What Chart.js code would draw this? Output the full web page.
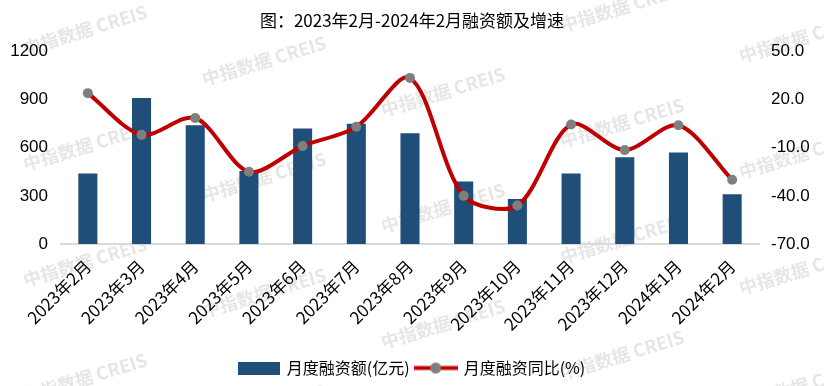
<!DOCTYPE html>
<html>
<head>
<meta charset="utf-8">
<script src="https://cdn.jsdelivr.net/npm/chart.js@4/dist/chart.umd.min.js"></script>
<style>
html,body{margin:0;padding:0;background:#fff;}
#wrap{width:824px;height:386px;position:relative;}
</style>
</head>
<body>
<div id="wrap"><canvas id="c" width="824" height="386"></canvas></div>
<script>
const categories = ["2023年2月","2023年3月","2023年4月","2023年5月","2023年6月","2023年7月","2023年8月","2023年9月","2023年10月","2023年11月","2023年12月","2024年1月","2024年2月"];
const amount = [440, 910, 740, 455, 720, 750, 690, 390, 280, 440, 540, 570, 310];
const growth = [24, -2, 8.5, -25, -9, 3, 33.5, -40, -46, 4.5, -11.5, 4, -30];
const leftTicks = [0, 300, 600, 900, 1200];
const rightTicks = [-70, -40, -10, 20, 50];
const titleText = "图：2023年2月-2024年2月融资额及增速";
const barLabel = "月度融资额(亿元)";
const lineLabel = "月度融资同比(%)";

const NAVY = "#1F4E79", RED = "#C00000", GREY = "#7F7F7F";
const CJK = '"Noto Sans CJK SC", "Noto Sans", sans-serif';
const LAT = '"Liberation Sans", Arial, sans-serif';

function mkCanvas(w, h, fn){ const c=document.createElement('canvas'); c.width=w; c.height=h; fn(c.getContext('2d')); return c; }
const barIcon = mkCanvas(42, 13, g => { g.fillStyle = NAVY; g.fillRect(0,0,42,13); });
const lineIcon = mkCanvas(44, 13, g => { g.strokeStyle = RED; g.lineWidth = 4; g.beginPath(); g.moveTo(0,6.5); g.lineTo(44,6.5); g.stroke(); g.fillStyle = GREY; g.beginPath(); g.arc(22,6.5,5.5,0,Math.PI*2); g.fill(); });

const watermark = {
  id: 'wm',
  beforeDraw(chart){
    const g = chart.ctx;
    g.save();
    g.fillStyle = '#e6e6e6';
    g.font = 'bold 18px ' + CJK;
    g.textAlign = 'center'; g.textBaseline = 'middle';
    for (let i = 0; i < 5; i++) {
      for (let j = -1; j < 4; j++) {
        const x = 85 + 179*i, y = 30 + 31*i + 116*j;
        g.save(); g.translate(x, y); g.rotate(-17*Math.PI/180);
        g.fillText('中指数据 CREIS', 0, 0);
        g.restore();
      }
    }
    g.restore();
  }
};

new Chart(document.getElementById('c'), {
  data: {
    labels: categories,
    datasets: [
      { type: 'bar', label: barLabel, data: amount, yAxisID: 'y', backgroundColor: NAVY,
        categoryPercentage: 1, barPercentage: 0.355, order: 1 },
      { type: 'line', label: lineLabel, data: growth, yAxisID: 'y2', borderColor: RED, borderWidth: 4,
        tension: 0.3, pointRadius: 5, pointHoverRadius: 5, pointBackgroundColor: GREY, pointBorderWidth: 0,
        fill: false, order: 0 }
    ]
  },
  options: {
    responsive: false, animation: false,
    layout: { padding: 0 },
    plugins: {
      tooltip: { enabled: false },
      title: { display: true, text: titleText, color: '#000', font: { family: CJK, size: 17, weight: 'normal' },
               padding: { top: 10, bottom: 21 } },
      legend: {
        position: 'bottom',
        labels: {
          usePointStyle: true, pointStyleWidth: 40, padding: 6,
          color: '#000', font: { family: CJK, size: 16 },
          generateLabels: () => [
            { text: barLabel, pointStyle: barIcon, datasetIndex: 0, fillStyle: NAVY, strokeStyle: NAVY, lineWidth: 0, fontColor: '#000' },
            { text: lineLabel, pointStyle: lineIcon, datasetIndex: 1, fillStyle: RED, strokeStyle: RED, lineWidth: 0, fontColor: '#000' }
          ]
        }
      }
    },
    scales: {
      x: {
        grid: { display: false, drawTicks: false },
        border: { display: true, color: '#D9D9D9', width: 2 },
        ticks: { minRotation: 45, maxRotation: 45, autoSkip: false, padding: 12, color: '#000', font: { family: CJK, size: 17 } },
        afterFit: s => { s.height = 110; }
      },
      y: {
        position: 'left', min: 0, max: 1200,
        afterBuildTicks: s => { s.ticks = leftTicks.map(v => ({ value: v })); },
        grid: { display: false, drawTicks: false }, border: { display: false },
        ticks: { padding: 13, color: '#000', font: { family: LAT, size: 17 }, callback: v => String(v) },
        afterFit: s => { s.width = 61; }
      },
      y2: {
        position: 'right', min: -70, max: 50,
        afterBuildTicks: s => { s.ticks = rightTicks.map(v => ({ value: v })); },
        grid: { display: false, drawTicks: false }, border: { display: false },
        ticks: { padding: 12, color: '#000', font: { family: LAT, size: 17 }, callback: v => Number(v).toFixed(1) },
        afterFit: s => { s.width = 65; }
      }
    }
  },
  plugins: [watermark]
});
</script>
</body>
</html>
